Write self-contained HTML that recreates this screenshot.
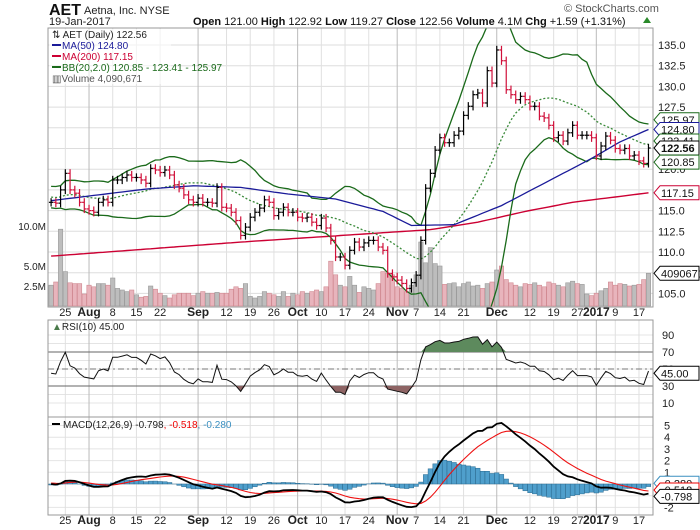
<!DOCTYPE html>
<html><head><meta charset="utf-8">
<style>
body{margin:0;background:#fff;}
svg{display:block;font-family:"Liberation Sans",sans-serif;}
</style></head>
<body>
<svg id="chart" width="700" height="530" viewBox="0 0 700 530">
  <rect x="0" y="0" width="700" height="530" fill="#fff"/>
  <g>
    <text x="49" y="15" font-size="16" font-weight="bold" fill="#111">AET</text>
    <text x="84" y="14" font-size="11" fill="#222">Aetna, Inc. NYSE</text>
    <text x="49" y="25" font-size="11" fill="#222">19-Jan-2017</text>
    <text x="193" y="25" font-size="11" fill="#111"><tspan font-weight="bold">Open</tspan> 121.00 <tspan font-weight="bold">High</tspan> 122.92 <tspan font-weight="bold">Low</tspan> 119.27 <tspan font-weight="bold">Close</tspan> 122.56 <tspan font-weight="bold">Volume</tspan> 4.1M <tspan font-weight="bold">Chg</tspan> +1.59 (+1.31%)</text>
    <polygon points="643,23 647,17 651,23" fill="#2a8a2a"/>
    <text x="564" y="12" font-size="11" fill="#555">© StockCharts.com</text>
  </g>
  <g id="grid"></g>
  <g id="main" clip-path="url(#clipMain)"></g>
  <g id="rsi"></g>
  <g id="macd" clip-path="url(#clipMacd)"></g>
  <defs>
    <clipPath id="clipMain"><rect x="48" y="28" width="605" height="279"/></clipPath>
    <clipPath id="clipMacd"><rect x="48" y="417" width="605" height="98"/></clipPath>
  </defs>
  <g id="frames">
    <rect x="48" y="28" width="605" height="279" fill="none" stroke="#999"/>
    <rect x="48" y="320" width="605" height="97" fill="none" stroke="#999"/>
    <rect x="48" y="417" width="605" height="98" fill="none" stroke="#999"/>
  </g>
  <g id="axes"></g>
  <g>
    <rect x="49" y="29" width="122" height="55" fill="#fff" opacity="0.6"/>
    <text x="52" y="38" font-size="10" fill="#222">⇅ AET (Daily) 122.56</text>
    <line x1="52" y1="45" x2="61" y2="45" stroke="#1a1a99" stroke-width="2"/>
    <text x="62" y="49" font-size="10" fill="#1a1a99">MA(50) 124.80</text>
    <line x1="52" y1="56" x2="61" y2="56" stroke="#cc0033" stroke-width="2"/>
    <text x="62" y="60" font-size="10" fill="#cc0033">MA(200) 117.15</text>
    <line x1="52" y1="67" x2="61" y2="67" stroke="#1a6a1a" stroke-width="2"/>
    <text x="62" y="71" font-size="10" fill="#1a6a1a">BB(20,2.0) 120.85 - 123.41 - 125.97</text>
    <text x="52" y="82" font-size="10" fill="#555">▥Volume 4,090,671</text>
  </g>
  <g>
    <text x="52" y="330" font-size="10" fill="#222"><tspan fill="#4a7a4a">▲</tspan>RSI(10) 45.00</text>
  </g>
  <g>
    <line x1="52" y1="424" x2="60" y2="424" stroke="#000" stroke-width="2"/>
    <text x="63" y="428" font-size="10" fill="#222">MACD(12,26,9) -0.798<tspan fill="#e00">, -0.518</tspan><tspan fill="#3a8fc0">, -0.280</tspan></text>
  </g>
  <g id="tags"></g>
</svg>
<script>
// ---- data ----
const closes = [116.0,115.9,117.5,119.5,117.5,117.1,116.0,115.2,115.0,114.8,116.0,116.3,116.0,118.7,118.7,119.0,119.3,119.0,119.0,118.7,118.3,120.1,119.9,119.6,119.9,119.3,118.1,117.7,116.9,116.3,116.0,116.5,116.0,116.0,115.9,117.8,115.4,115.3,114.8,113.8,112.0,113.0,114.2,114.8,
115.3,116.3,116.0,114.4,114.8,115.4,114.8,114.8,114.2,114.1,114.2,113.6,113.2,114.1,112.9,111.4,109.4,109.4,108.4,110.2,111.2,110.6,111.1,111.4,111.4,110.6,110.2,107.4,107.0,106.6,106.2,105.6,106.3,107.2,111.4,
117.7,119.5,122.3,123.8,123.2,123.2,124.1,124.6,126.5,127.6,129.0,129.2,128.0,131.9,130.4,134.4,133.1,129.6,129.0,128.4,128.8,128.4,127.6,127.6,126.4,126.2,125.3,123.8,124.1,123.4,124.4,125.3,124.1,124.1,124.1,123.8,121.6,122.8,124.0,123.5,122.5,122.3,122.5,121.6,121.7,121.0,120.7,122.56];
const volumes = [2.6,3.0,9.6,4.3,2.9,2.8,2.8,1.5,2.6,2.4,2.8,2.8,2.6,3.5,2.2,2.0,1.8,2.0,1.4,1.1,1.2,2.5,2.1,1.6,1.3,1.0,1.4,1.6,1.6,1.6,1.3,1.6,1.8,1.6,1.6,1.7,1.6,1.6,2.1,2.4,2.2,2.8,1.2,1.0,
1.2,1.8,1.6,1.4,1.2,1.8,1.2,1.6,1.4,1.8,1.6,1.8,2.0,1.8,2.4,5.6,3.9,2.6,2.4,3.7,2.6,1.7,2.4,2.2,2.0,2.8,4.3,4.1,3.9,2.4,2.2,1.8,2.6,3.9,8.0,
5.4,7.3,5.3,5.0,2.7,2.8,2.9,2.4,2.8,3.0,2.5,2.6,2.2,2.8,3.0,4.5,5.0,3.3,2.9,2.6,2.4,2.8,2.7,2.9,2.6,2.4,3.0,2.8,2.6,2.4,2.9,3.1,2.8,2.7,1.5,1.3,1.6,1.9,2.2,3.0,2.6,2.8,2.7,2.5,2.6,2.7,3.3,4.09];
const history = [116,117,116.5,115.8,116.2,117,117.5,116.8,116,115.5,116.2,117,117.8,118,117.2,116.5,116,116.8,117.5,116.6,116.2,115.9,116.4,117.1,116.8,116.3];
const ma50Idx = [0,10,20,30,40,50,60,70,76,85,95,105,114,120,126];
const ma50Val = [116.2,116.9,117.6,118.0,117.8,117.0,116.4,114.9,113.2,113.3,115.6,118.6,121.3,123.3,124.8];
const ma200Idx = [0,40,80,90,100,110,126];
const ma200Val = [109.5,111.2,112.7,113.6,114.9,116.0,117.15];
const xLabels = ['25','Aug','8','15','22','Sep','12','19','26','Oct','10','17','24','Nov','7','14','21','Dec','12','19','27','2017','9','17'];
const xLabelIdx = [3,8,13,18,23,31,37,42,47,52,57,62,67,73,77,82,87,94,101,106,111,115,119,124];
const monthLabels = ['Aug','Sep','Oct','Nov','Dec','2017'];
const priceTicks = [105,107.5,110,112.5,115,117.5,120,122.5,125,127.5,130,132.5,135];
const volTicks = [2.5,5,10];
const rsiTicks = [10,30,50,70,90];
const macdTicks = [-2,-1,0,1,2,3,4,5];

// ---- scales ----
const xs = i => 51.1 + i*4.741;
const py = p => 45 + (135-p)*8.28;
const vy = v => 306 - v*8;
const ry = r => 369 - (r-50)*0.85;
const my = m => 484 - m*11.7;
const NS='http://www.w3.org/2000/svg';
function mk(tag, attrs, parent){const e=document.createElementNS(NS,tag);for(const k in attrs)e.setAttribute(k,attrs[k]);parent.appendChild(e);return e;}
const grid=document.getElementById('grid'), main=document.getElementById('main'), rsiG=document.getElementById('rsi'), macdG=document.getElementById('macd'), axes=document.getElementById('axes'), tags=document.getElementById('tags');

// grid
priceTicks.forEach(p=>{const l=mk('line',{x1:48,x2:653,y1:py(p),y2:py(p),stroke:'#ddd'},grid);

});
for(let r=10;r<=90;r+=10){const l=mk('line',{x1:48,x2:653,y1:ry(r),y2:ry(r),stroke:'#e4e4e4'},grid);

}
macdTicks.forEach(m=>{const l=mk('line',{x1:48,x2:653,y1:my(m),y2:my(m),stroke:'#e4e4e4'},grid);

});
xLabels.forEach((lab,k)=>{const x=xs(xLabelIdx[k]);const isM=monthLabels.includes(lab);
[[28,307],[320,515]].forEach(([a,b])=>{const l=mk('line',{x1:x,x2:x,y1:a,y2:b,stroke:isM?'#bbb':'#e0e0e0'},grid);

});
[313+5,521+5].forEach(y=>{const t=mk('text',{x:x,y:y-2,'font-size':isM?12:11,'font-weight':isM?'bold':'normal','text-anchor':'middle',fill:'#222'},axes);t.textContent=lab;

});});

// volume
volumes.forEach((v,i)=>{const up=i===0||closes[i]>=closes[i-1];const r=mk('rect',{x:xs(i)-2.2,y:vy(v),width:4.4,height:306-vy(v),fill:up?'#bdbdbd':'#e8b4bc',stroke:up?'#999':'#d08890','stroke-width':0.6},main);

});

// moving averages
function interp(idx,val,i){for(let k=0;k<idx.length-1;k++){if(i>=idx[k]&&i<=idx[k+1]){const t=(i-idx[k])/(idx[k+1]-idx[k]);return val[k]+t*(val[k+1]-val[k]);}}return val[val.length-1];}
function pathOf(arr,yf){return arr.map((v,i)=>v==null?'':((i===0||arr[i-1]==null?'M':'L')+xs(i).toFixed(1)+','+yf(v).toFixed(1))).join(' ');}
const ma200=closes.map((c,i)=>interp(ma200Idx,ma200Val,i));
const ma50=closes.map((c,i)=>interp(ma50Idx,ma50Val,i));
// bollinger
const all=history.concat(closes), H=history.length;
const bbU=[],bbM=[],bbL=[];
closes.forEach((c,i)=>{const w=all.slice(H+i-19,H+i+1);const m=w.reduce((a,b)=>a+b,0)/20;const sd=Math.sqrt(w.reduce((a,b)=>a+(b-m)*(b-m),0)/20);bbU.push(m+2*sd);bbM.push(m);bbL.push(m-2*sd);});
let e;
e=mk('path',{d:pathOf(ma200,py),fill:'none',stroke:'#cc0033','stroke-width':1.4},main);


e=mk('path',{d:pathOf(bbU,py),fill:'none',stroke:'#1a6a1a','stroke-width':1.3},main);


e=mk('path',{d:pathOf(bbL,py),fill:'none',stroke:'#1a6a1a','stroke-width':1.3},main);


e=mk('path',{d:pathOf(bbM,py),fill:'none',stroke:'#3a8a3a','stroke-width':1.3,'stroke-dasharray':'2,2'},main);


e=mk('path',{d:pathOf(ma50,py),fill:'none',stroke:'#1a1a99','stroke-width':1.3},main);



// price bars
closes.forEach((c,i)=>{const o=i===0?c:closes[i-1];const hi=Math.max(o,c)+0.5,lo=Math.min(o,c)-0.5;const col=(i>0&&c<o)?'#d0103a':'#000';
const g=mk('g',{stroke:col,'stroke-width':1.2},main);


const x=xs(i);mk('line',{x1:x,x2:x,y1:py(hi),y2:py(lo)},g);mk('line',{x1:x-2.2,x2:x,y1:py(o),y2:py(o)},g);mk('line',{x1:x,x2:x+2.2,y1:py(c),y2:py(c)},g);});

// RSI(10)
const rsi=[];{let ag=0,al=0;const N=10;for(let k=1;k<=N;k++){const d=all[k]-all[k-1];ag+=Math.max(d,0);al+=Math.max(-d,0);}ag/=N;al/=N;
for(let k=N+1;k<all.length;k++){const d=all[k]-all[k-1];ag=(ag*(N-1)+Math.max(d,0))/N;al=(al*(N-1)+Math.max(-d,0))/N;if(k>=H)rsi.push(al===0?100:100-100/(1+ag/al));}}
[70,30].forEach(r=>{const l=mk('line',{x1:48,x2:653,y1:ry(r),y2:ry(r),stroke:'#666'},rsiG);

});
e=mk('line',{x1:48,x2:653,y1:ry(50),y2:ry(50),stroke:'#777','stroke-dasharray':'6,3,2,3'},rsiG);


const ob='M'+xs(0)+','+ry(70)+' '+rsi.map((r,i)=>'L'+xs(i).toFixed(1)+','+ry(Math.max(r,70)).toFixed(1)).join(' ')+' L'+xs(rsi.length-1)+','+ry(70)+'Z';
e=mk('path',{d:ob,fill:'#5d8a5d',stroke:'none'},rsiG);


const os='M'+xs(0)+','+ry(30)+' '+rsi.map((r,i)=>'L'+xs(i).toFixed(1)+','+ry(Math.min(r,30)).toFixed(1)).join(' ')+' L'+xs(rsi.length-1)+','+ry(30)+'Z';
e=mk('path',{d:os,fill:'#8e6464',stroke:'none'},rsiG);


e=mk('path',{d:pathOf(rsi,ry),fill:'none',stroke:'#111','stroke-width':1},rsiG);



// MACD
function ema(arr,n){const k=2/(n+1);const out=[];let v=arr[0];arr.forEach(a=>{v=a*k+v*(1-k);out.push(v);});return out;}
const e12=ema(all,12),e26=ema(all,26);const macdAll=all.map((a,i)=>e12[i]-e26[i]);const sigAll=ema(macdAll,9);
const macd=macdAll.slice(H),sig=sigAll.slice(H),hist=macd.map((m,i)=>m-sig[i]);
hist.forEach((h,i)=>{const y0=my(0),y1=my(h);const r=mk('rect',{x:xs(i)-2.3,y:Math.min(y0,y1),width:4.6,height:Math.abs(y1-y0),fill:'#4f9fcc',stroke:'#2a6a90','stroke-width':0.5},macdG);

});
e=mk('path',{d:pathOf(sig,my),fill:'none',stroke:'#ee1111','stroke-width':1.1},macdG);


e=mk('path',{d:pathOf(macd,my),fill:'none',stroke:'#000','stroke-width':1.8},macdG);



// axis labels
function lab(x,y,txt,name,anchor,size){const t=mk('text',{x:x,y:y+4,'font-size':size||11,fill:'#222','text-anchor':anchor||'start'},axes);t.textContent=txt;

}
priceTicks.forEach(p=>lab(658,py(p),p.toFixed(1),'price-axis-label'));
volTicks.forEach(v=>lab(46,vy(v),v.toFixed(1)+'M','volume-axis-label','end',10));
rsiTicks.forEach(r=>lab(662,ry(r),String(r),'rsi-axis-label'));
macdTicks.filter(m=>m!==-1).forEach(m=>lab(664,my(m),String(m),'macd-axis-label'));

// value tags
function tag(y,txt,col,name,bold){const g=mk('g',{},tags);


mk('polygon',{points:`654,${y} 660,${y-7} 699,${y-7} 699,${y+7} 660,${y+7}`,fill:'#fff',stroke:col,'stroke-width':1},g);
const t=mk('text',{x:661,y:y+4,'font-size':11,fill:'#111','font-weight':bold?'bold':'normal'},g);t.textContent=txt;}
tag(py(125.97),'125.97','#1a6a1a','bb-upper-tag');
tag(py(124.80),'124.80','#1a1a99','ma50-tag');
tag(py(123.41),'123.41','#1a6a1a','bb-middle-tag');
tag(py(122.56),'122.56','#000','close-price-tag',true);
tag(py(120.85),'120.85','#1a6a1a','bb-lower-tag');
tag(py(117.15),'117.15','#cc0033','ma200-tag');
tag(vy(4.09),'4090671','#000','volume-tag');
tag(ry(45),'45.00','#000','rsi-value-tag');
tag(my(-0.28)-4,'-0.280','#3a8fc0','macd-hist-tag');
tag(my(-0.518),'-0.518','#e00','macd-signal-tag');
tag(my(-0.798)+3,'-0.798','#000','macd-value-tag');
</script>
</body></html>
